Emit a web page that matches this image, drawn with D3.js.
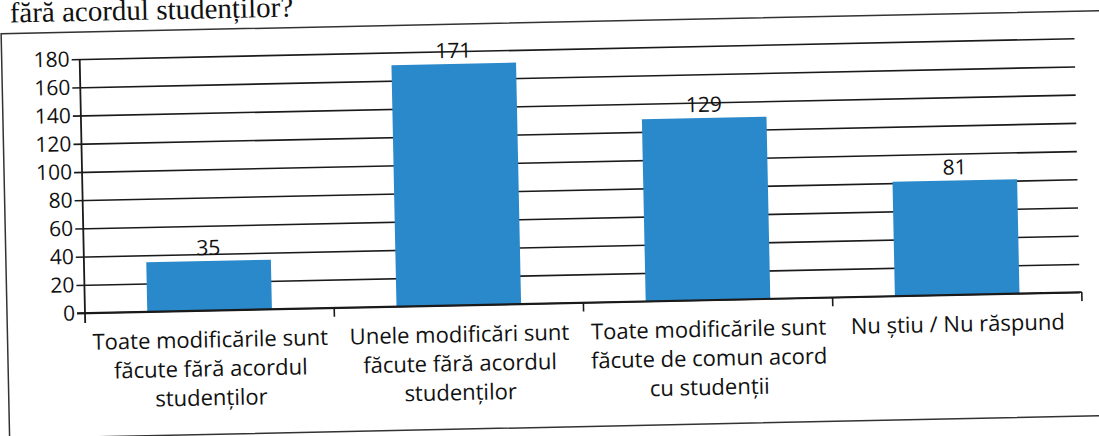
<!DOCTYPE html>
<html lang="ro">
<head>
    <meta charset="UTF-8">
    <title>Modificări fără acordul studenților</title>
    <script src="https://d3js.org/d3.v7.min.js"></script>
    <style>
        body { margin: 0; background: #fff; }
        .tick-label { font-family: "Open Sans", sans-serif; font-size: 21px; fill: #111; }
        .cat-label { font-family: "Open Sans", sans-serif; font-size: 22px; fill: #111; }
        .value-label { font-family: "Open Sans", sans-serif; font-size: 21px; fill: #111; }
        .title { font-family: "Liberation Serif", "Times New Roman", serif; font-size: 29px; fill: #111; }
    </style>
</head>
<body>
    <svg id="chart" width="1099" height="436"></svg>
    <script>
        // data
        const categories = [
            ["Toate modificările sunt", "făcute fără acordul", "studenților"],
            ["Unele modificări sunt", "făcute fără acordul", "studenților"],
            ["Toate modificările sunt", "făcute de comun acord", "cu studenții"],
            ["Nu știu / Nu răspund"]
        ];
        const values = [35, 171, 129, 81];
        const yTicks = [0, 20, 40, 60, 80, 100, 120, 140, 160, 180];
        const titleText = "fără acordul studenților?";

        const svg = d3.select("#chart");
        const plotLeft = 85, plotRight = 1082, plotTop = 59, plotBottom = 313;

        // the scanned page is slightly tilted
        const g = svg.append("g")
            .attr("transform", `rotate(-1.2, ${plotLeft}, ${plotBottom})`);

        g.append("text")
            .attr("class", "title")
            .attr("x", 16)
            .attr("y", 21)
            .text(titleText);

        // frame
        g.append("rect")
            .attr("x", 7).attr("y", 32)
            .attr("width", 1140).attr("height", 405)
            .attr("fill", "none")
            .attr("stroke", "#333")
            .attr("stroke-width", 1.5);

        const x = d3.scaleBand()
            .domain(d3.range(categories.length))
            .range([plotLeft, plotRight])
            .paddingInner(0.5)
            .paddingOuter(0.25);

        const y = d3.scaleLinear()
            .domain([0, 180])
            .range([plotBottom, plotTop]);

        // gridlines + y ticks
        const yAxis = d3.axisLeft(y)
            .tickValues(yTicks)
            .tickSize(-(plotRight - plotLeft - 2))
            .tickPadding(12);

        const ya = g.append("g")
            .attr("transform", `translate(${plotLeft},0)`)
            .call(yAxis);
        ya.select(".domain").remove();
        ya.selectAll(".tick line")
            .attr("x1", -8)
            .attr("stroke", "#1a1a1a")
            .attr("stroke-width", 1.6);
        ya.selectAll(".tick text")
            .attr("class", "tick-label")
            .attr("fill", null)
            .attr("dx", 2);
        ya.attr("font-family", null).attr("font-size", null);

        // bars
        g.selectAll(".bar")
            .data(values)
            .join("rect")
            .attr("class", "bar")
            .attr("x", (d, i) => x(i))
            .attr("y", d => y(d))
            .attr("width", x.bandwidth())
            .attr("height", d => y(0) - y(d))
            .attr("fill", "#2a89cb");

        // value labels
        g.selectAll(".value-label")
            .data(values)
            .join("text")
            .attr("class", "value-label")
            .attr("x", (d, i) => x(i) + x.bandwidth() / 2)
            .attr("y", d => y(d) - 6)
            .attr("text-anchor", "middle")
            .text(d => d);

        // y axis line and x axis line
        g.append("line")
            .attr("x1", plotLeft).attr("x2", plotLeft)
            .attr("y1", plotTop).attr("y2", plotBottom + 10)
            .attr("stroke", "#1a1a1a").attr("stroke-width", 1.8);
        g.append("line")
            .attr("x1", plotLeft - 8).attr("x2", plotRight)
            .attr("y1", plotBottom).attr("y2", plotBottom)
            .attr("stroke", "#1a1a1a").attr("stroke-width", 1.8);

        // category boundary ticks
        const step = (plotRight - plotLeft) / categories.length;
        g.selectAll(".cat-tick")
            .data(d3.range(1, categories.length + 1))
            .join("line")
            .attr("class", "cat-tick")
            .attr("x1", i => plotLeft + i * step).attr("x2", i => plotLeft + i * step)
            .attr("y1", plotBottom).attr("y2", plotBottom + 9)
            .attr("stroke", "#1a1a1a").attr("stroke-width", 1.6);

        // category labels
        const cat = g.selectAll(".cat-label")
            .data(categories)
            .join("text")
            .attr("class", "cat-label")
            .attr("text-anchor", "middle")
            .attr("x", (d, i) => x(i) + x.bandwidth() / 2)
            .attr("y", 350);
        cat.selectAll("tspan")
            .data(d => d)
            .join("tspan")
            .attr("x", function () { return this.parentNode.getAttribute("x"); })
            .attr("dy", (d, i) => i === 0 ? 0 : 29)
            .text(d => d);
    </script>
</body>
</html>
